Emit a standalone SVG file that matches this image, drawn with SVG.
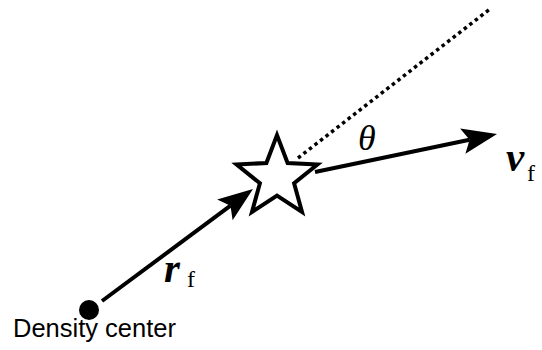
<svg xmlns="http://www.w3.org/2000/svg" width="542" height="350" viewBox="0 0 542 350">
<style>
.ln{stroke:#000;stroke-width:4;fill:none}
.math{font-family:"Liberation Serif","Times New Roman",serif;fill:#000}
.bi{font-style:italic;font-weight:bold;font-size:41px}
.sub{font-size:24px}
.lbl{font-family:"Liberation Sans",Arial,sans-serif;font-size:25.5px;fill:#000}
</style>
<defs>
<marker id="ah" markerUnits="userSpaceOnUse" orient="auto" refX="0" refY="0" viewBox="-8 -14 37 28" markerWidth="37" markerHeight="28" overflow="visible">
<path d="M0 0 L-7 -13 L28 0 L-7 13 Z" fill="#000"/>
</marker>
</defs>
<rect width="542" height="350" fill="#fff"/>
<g id="connectors">
<line class="ln" x1="102" y1="301" x2="230.5" y2="205.7" marker-end="url(#ah)"/>
<line class="ln" x1="315" y1="172" x2="469.6" y2="139.7" marker-end="url(#ah)"/>
<line x1="298" y1="158" x2="490" y2="9" stroke="#000" stroke-width="3.5" stroke-dasharray="3.5 3.5"/>
</g>
<g id="density-center">
<circle cx="89" cy="310" r="10" fill="#000"/>
<text class="lbl" x="13" y="337">Density center</text>
</g>
<g id="star">
<polygon points="277,135.1 287.6,163 317.4,164.5 294.1,183.2 302,212 277,195.6 252,212 259.9,183.2 236.6,164.5 266.4,163" fill="#fff" stroke="#000" stroke-width="4" stroke-linejoin="miter"/>
</g>
<g id="labels">
<text class="math" x="358" y="150" font-size="36" font-style="italic">θ</text>
<text class="math bi" x="506" y="171">v</text>
<text class="math sub" x="527" y="181">f</text>
<text class="math bi" x="164" y="282">r</text>
<text class="math sub" x="187" y="287">f</text>
</g>
</svg>
